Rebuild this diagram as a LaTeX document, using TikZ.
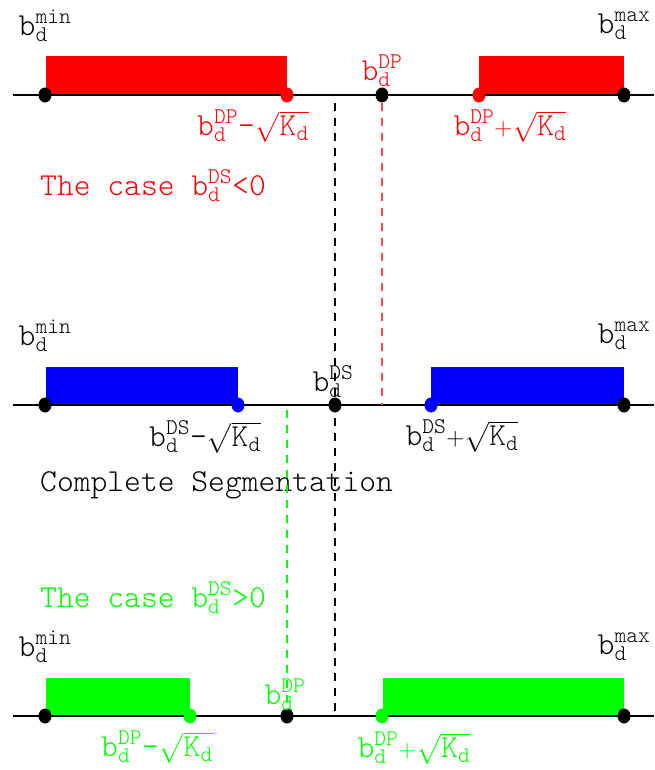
\documentclass[tikz,border=0pt]{standalone}
\usepackage{amsmath}
\usepackage{fontspec}
\setmonofont{Latin Modern Mono Light}
\usetikzlibrary{positioning,shapes.geometric}
\definecolor{segRed}  {HTML}{FF0000}
\definecolor{segRedL} {HTML}{FF4A4A}
\definecolor{segBlue} {HTML}{0000FF}
\definecolor{segGreen}{HTML}{00FF00}
\newcommand\tx[1]{\text{\ttfamily #1}}
\newcommand\bd[1]{\tx{b}^{\tx{#1}}_{\tx{d}}}
\newcommand\sk{\sqrt{\tx{K}_{\tx{d}}}}

\begin{document}
\begin{tikzpicture}[x=1pt,y=-1pt,font=\fontsize{32}{34}\selectfont\ttfamily,
      dot/.style={ellipse,fill=#1,inner sep=0pt,minimum width=13pt,minimum height=15pt},
      lab/.style={inner sep=0pt,text=#1},
      axis/.style={line width=1.6pt},
      guide/.style={draw=#1,dash pattern=on 8pt off 7pt,line width=1.1pt}]
    \useasboundingbox (0,0) rectangle (654,770);

    % guides (drawn first, dots sit on top)
    \coordinate (gt) at (335,103);
    \coordinate (gb) at (335,716);
    \coordinate (r2) at (382,405);
    \coordinate (g2) at (287,410);

    % row 1 : b^DS < 0
    \fill[segRed] (46,56) rectangle (287,95);
    \fill[segRed] (479,56) rectangle (624,95);
    \draw[axis] (13,95) -- (654,95);
    \node[dot=black]  (min1) at (45,95)  {};
    \node[dot=segRed] (lo1)  at (287,95) {};
    \node[dot=black]  (dp1)  at (382,95) {};
    \node[dot=segRed] (hi1)  at (479,95) {};
    \node[dot=black]  (max1) at (624,95) {};
    \node[lab=black]  (tmin1) at (45,26)   {$\bd{min}$};
    \node[lab=black]  (tmax1) at (624,26)  {$\bd{max}$};
    \node[lab=segRed] (tdp1)  at (382,71)  {$\bd{DP}$};
    \node[lab=segRed] (tlo1)  at (253,126) {$\bd{DP}{\tx{-}}\sk$};
    \node[lab=segRed] (thi1)  at (510,126) {$\bd{DP}{+}\sk$};
    \node[lab=segRed,anchor=base west] (case1) at (40,195) {The case $\bd{DS}\tx{<0}$};

    % row 2 : complete segmentation
    \fill[segBlue] (46,367) rectangle (238,405);
    \fill[segBlue] (431,367) rectangle (624,405);
    \draw[axis] (13,405) -- (654,405);
    \draw[guide=segRedL] (dp1) -- (r2);
    \node[dot=black]   (min2) at (45,405)  {};
    \node[dot=segBlue] (lo2)  at (238,405) {};
    \node[dot=black]   (ds2)  at (335,405) {};
    \node[dot=segBlue] (hi2)  at (431,405) {};
    \node[dot=black]   (max2) at (624,405) {};
    \node[lab=black] (tmin2) at (45,336)  {$\bd{min}$};
    \node[lab=black] (tmax2) at (624,336) {$\bd{max}$};
    \node[lab=black] (tds2)  at (333,382) {$\bd{DS}$};
    \node[lab=black] (tlo2)  at (205,437) {$\bd{DS}{\tx{-}}\sk$};
    \node[lab=black] (thi2)  at (462,436) {$\bd{DS}{+}\sk$};
    \node[lab=black,anchor=base west] (case2) at (40,491) {Complete Segmentation};

    % row 3 : b^DS > 0
    \fill[segGreen] (46,678) rectangle (190,716);
    \fill[segGreen] (383,678) rectangle (624,716);
    \draw[axis] (13,716) -- (654,716);
    \draw[guide=black] (gt) -- (gb);
    \draw[guide=segGreen] (g2) -- (287,709);
    \node[dot=black]    (min3) at (45,716)  {};
    \node[dot=segGreen] (lo3)  at (190,716) {};
    \node[dot=black]    (dp3)  at (287,716) {};
    \node[dot=segGreen] (hi3)  at (382,716) {};
    \node[dot=black]    (max3) at (624,716) {};
    \node[lab=black]    (tmin3) at (45,647)  {$\bd{min}$};
    \node[lab=black]    (tmax3) at (624,647) {$\bd{max}$};
    \node[lab=segGreen] (tdp3)  at (285,695) {$\bd{DP}$};
    \node[lab=segGreen] (tlo3)  at (157,747) {$\bd{DP}{\tx{-}}\sk$};
    \node[lab=segGreen] (thi3)  at (414,748) {$\bd{DP}{+}\sk$};
    \node[lab=segGreen,anchor=base west] (case3) at (40,607) {The case $\bd{DS}\tx{>0}$};
\end{tikzpicture}
\end{document}
